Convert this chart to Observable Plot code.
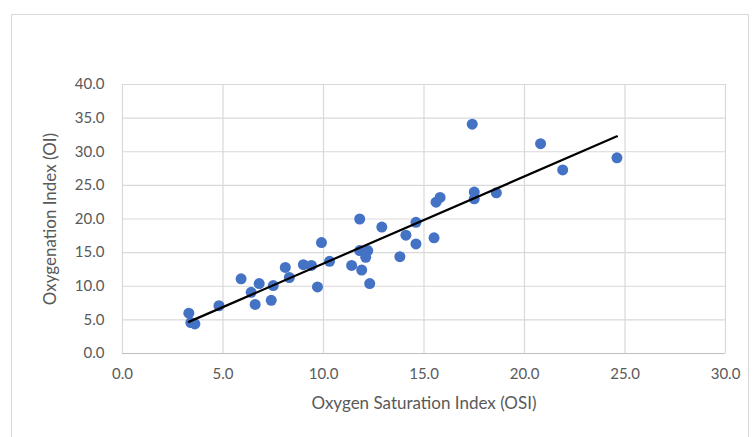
<!DOCTYPE html>
<html>
<head>
<meta charset="utf-8">
<script src="https://cdn.jsdelivr.net/npm/d3@7"></script>
<script src="https://cdn.jsdelivr.net/npm/@observablehq/plot@0.6"></script>
<style>
  html, body { margin: 0; padding: 0; background: #fff; }
  #wrap { position: relative; width: 755px; height: 437px; overflow: hidden; }
  #border { position: absolute; left: 11px; top: 14px; width: 738px; height: 440px; border: 1px solid #d9d9d9; box-sizing: border-box; }
  #chart { position: absolute; left: 0; top: 0; }
</style>
</head>
<body>
<div id="wrap"><div id="border"></div><div id="chart"></div></div>
<script>
// Oxygen Saturation Index (x) and Oxygenation Index (y)
const osi = [3.3, 3.4, 3.6, 4.8, 5.9, 6.8, 6.4, 6.6, 7.4, 7.5, 8.1, 8.3, 9.0, 9.4, 9.9, 9.7, 10.3,
             11.8, 12.9, 11.8, 12.2, 12.1, 11.4, 11.9, 12.3, 13.8, 14.1, 14.6, 14.6, 15.5, 15.6, 15.8,
             17.5, 17.5, 18.6, 17.4, 20.8, 21.9, 24.6];
const oi  = [6.0, 4.6, 4.4, 7.1, 11.1, 10.4, 9.1, 7.3, 7.9, 10.1, 12.8, 11.3, 13.2, 13.1, 16.5, 9.9, 13.7,
             20.0, 18.8, 15.3, 15.3, 14.3, 13.1, 12.4, 10.4, 14.4, 17.6, 16.3, 19.5, 17.2, 22.5, 23.2,
             24.0, 23.0, 23.9, 34.1, 31.2, 27.3, 29.1];
const xTicks = [0, 5, 10, 15, 20, 25, 30];
const yTicks = [0, 5, 10, 15, 20, 25, 30, 35, 40];
const xTitle = "Oxygen Saturation Index (OSI)";
const yTitle = "Oxygenation Index (OI)";

const data = osi.map((x, i) => ({x, y: oi[i]}));
const grid = "#d9d9d9";
const textColor = "#595959";

const chart = Plot.plot({
  width: 755,
  height: 437,
  marginLeft: 122,
  marginRight: 30,
  marginTop: 84,
  marginBottom: 84,
  style: { fontFamily: "Lato, sans-serif", fontSize: "15px", background: "transparent" },
  x: { domain: [0, 30] },
  y: { domain: [0, 40] },
  marks: [
    Plot.gridX(xTicks, { stroke: grid, strokeOpacity: 1, strokeWidth: 1.2 }),
    Plot.gridY(yTicks, { stroke: grid, strokeOpacity: 1, strokeWidth: 1.2 }),
    Plot.ruleY([0], { stroke: "#bfbfbf", strokeWidth: 1.2 }),
    Plot.axisX(xTicks, { tickSize: 0, tickPadding: 15, tickFormat: d => d.toFixed(1), label: null, fill: textColor, style: "letter-spacing:0.8px" }),
    Plot.axisY(yTicks, { tickSize: 0, tickPadding: 18, tickFormat: d => d.toFixed(1), label: null, fill: textColor, style: "letter-spacing:0.8px" }),
    Plot.text([xTitle], { frameAnchor: "bottom", textAnchor: "middle", dy: 55, fill: textColor, fontSize: 17, text: d => d, style: "letter-spacing:0.9px" }),
    Plot.text([yTitle], { frameAnchor: "left", textAnchor: "middle", dx: -72, rotate: -90, fill: textColor, fontSize: 17, text: d => d, style: "letter-spacing:0.9px" }),
    Plot.dot(data, { x: "x", y: "y", r: 5.5, fill: "#4472c4", stroke: "none" }),
    Plot.linearRegressionY(data, { x: "x", y: "y", ci: 0, stroke: "black", strokeWidth: 2.2 })
  ]
});
document.getElementById("chart").append(chart);
</script>
</body>
</html>
